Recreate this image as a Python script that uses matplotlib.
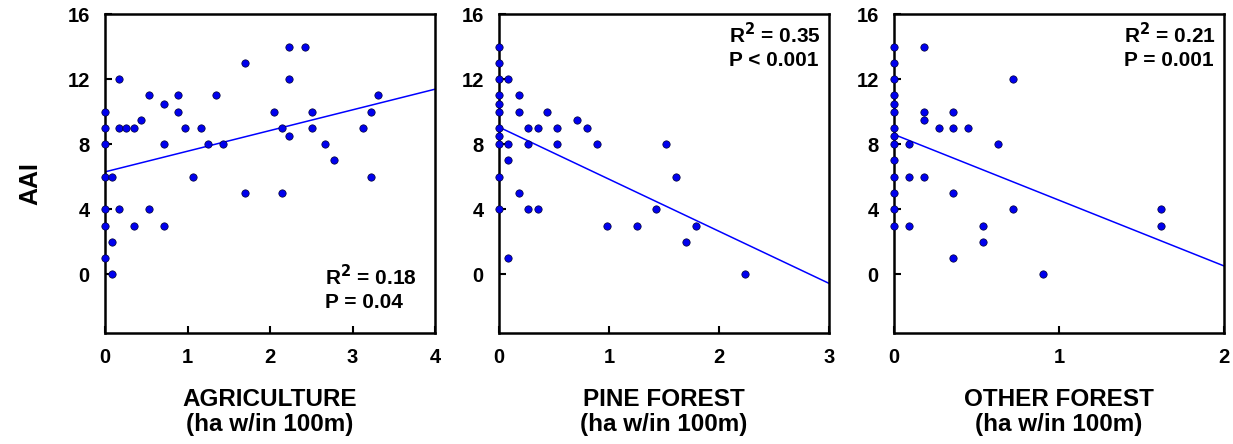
import matplotlib
matplotlib.use('Agg')
import matplotlib.pyplot as plt

plt.rcParams['font.family'] = ['Liberation Sans', 'DejaVu Sans']
plt.rcParams['font.weight'] = 'bold'

# AGRICULTURE
agri_x = [0, 0, 0, 0, 0, 0, 0, 0.08, 0.08, 0.08, 0.17, 0.17, 0.17, 0.26, 0.35, 0.35,
          0.44, 0.53, 0.53, 0.71, 0.71, 0.71, 0.89, 0.89, 0.97, 1.07, 1.16, 1.25, 1.34,
          1.43, 1.70, 1.70, 2.05, 2.15, 2.15, 2.23, 2.23, 2.23, 2.42, 2.51, 2.51, 2.67,
          2.77, 3.13, 3.22, 3.22, 3.31]
agri_y = [10, 9, 8, 6, 4, 3, 1, 6, 2, 0, 12, 9, 4, 9, 9, 3,
          9.5, 11, 4, 10.5, 8, 3, 11, 10, 9, 6, 9, 8, 11,
          8, 13, 5, 10, 9, 5, 14, 12, 8.5, 14, 10, 9, 8,
          7, 9, 10, 6, 11]
agri_fit = (6.3, 1.27)   # intercept, slope

# PINE FOREST
pine_x = [0, 0, 0, 0, 0, 0, 0, 0, 0, 0, 0, 0.085, 0.085, 0.085, 0.085, 0.18, 0.18,
          0.18, 0.26, 0.26, 0.26, 0.35, 0.35, 0.44, 0.53, 0.53, 0.71, 0.80, 0.89, 0.98,
          1.25, 1.43, 1.52, 1.61, 1.70, 1.79, 2.24]
pine_y = [14, 13, 12, 11, 10.5, 10, 9, 8.5, 8, 6, 4, 12, 8, 7, 1, 11, 10,
          5, 9, 8, 4, 9, 4, 10, 9, 8, 9.5, 9, 8, 3,
          3, 4, 8, 6, 2, 3, 0]
pine_fit = (9.05, -3.2)

# OTHER FOREST
other_x = [0, 0, 0, 0, 0, 0, 0, 0, 0, 0, 0, 0, 0, 0, 0.09, 0.09, 0.09, 0.18, 0.18,
           0.18, 0.18, 0.27, 0.36, 0.36, 0.36, 0.36, 0.45, 0.54, 0.54, 0.63, 0.72, 0.72,
           0.90, 1.62, 1.62]
other_y = [14, 13, 12, 11, 10.5, 10, 9, 8.5, 8, 7, 6, 5, 4, 3, 8, 6, 3, 14, 10,
           9.5, 6, 9, 10, 9, 5, 1, 9, 3, 2, 8, 12, 4,
           0, 4, 3]
other_fit = (8.6, -4.04)

panels = [
    ("AGRICULTURE", agri_x, agri_y, agri_fit, 4, "R$^\\mathbf{2}$ = 0.18\nP = 0.04", 'bottom'),
    ("PINE FOREST", pine_x, pine_y, pine_fit, 3, "R$^\\mathbf{2}$ = 0.35\nP < 0.001", 'top'),
    ("OTHER FOREST", other_x, other_y, other_fit, 2, "R$^\\mathbf{2}$ = 0.21\nP = 0.001", 'top'),
]
lefts = [105, 499, 894]

fig = plt.figure(figsize=(12.33, 4.44), dpi=100)
W, H = 1233, 444

for (name, xs, ys, fit, xmax, stat, pos), left in zip(panels, lefts):
    ax = fig.add_axes([left / W, 111 / H, 330 / W, 319 / H])
    ax.set_xlim(0, xmax)
    ax.set_ylim(-3.6, 16)
    b, m = fit
    ax.plot([0, xmax], [b, b + m * xmax], color='#0000ff', lw=1.1, zorder=2)
    ax.scatter(xs, ys, s=28, color='#0000ee', edgecolors='#000033', linewidths=0.5,
               zorder=4, clip_on=False)
    ax.set_xticks(range(0, xmax + 1))
    ax.set_yticks([0, 4, 8, 12, 16])
    ax.tick_params(direction='in', length=5, width=1.5, labelsize=14.5, pad=11)
    for s in ax.spines.values():
        s.set_linewidth(1.8)
    for lab in ax.get_xticklabels() + ax.get_yticklabels():
        lab.set_fontweight('bold')
    ax.set_xlabel(name + "\n(ha w/in 100m)", fontsize=17.5, fontweight='bold',
                  labelpad=15, linespacing=1.1)
    if pos == 'bottom':
        ax.text(0.945, 0.065, stat, transform=ax.transAxes, ha='right', va='bottom',
                ma='left', fontsize=15, fontweight='bold', linespacing=1.25)
    else:
        ax.text(0.975, 0.975, stat, transform=ax.transAxes, ha='right', va='top',
                ma='left', fontsize=15, fontweight='bold', linespacing=1.25)

fig.text(30 / W, 1 - 184 / H, "AAI", rotation=90, ha='center', va='center',
         fontsize=18, fontweight='bold')

fig.savefig('out.png', dpi=100)
